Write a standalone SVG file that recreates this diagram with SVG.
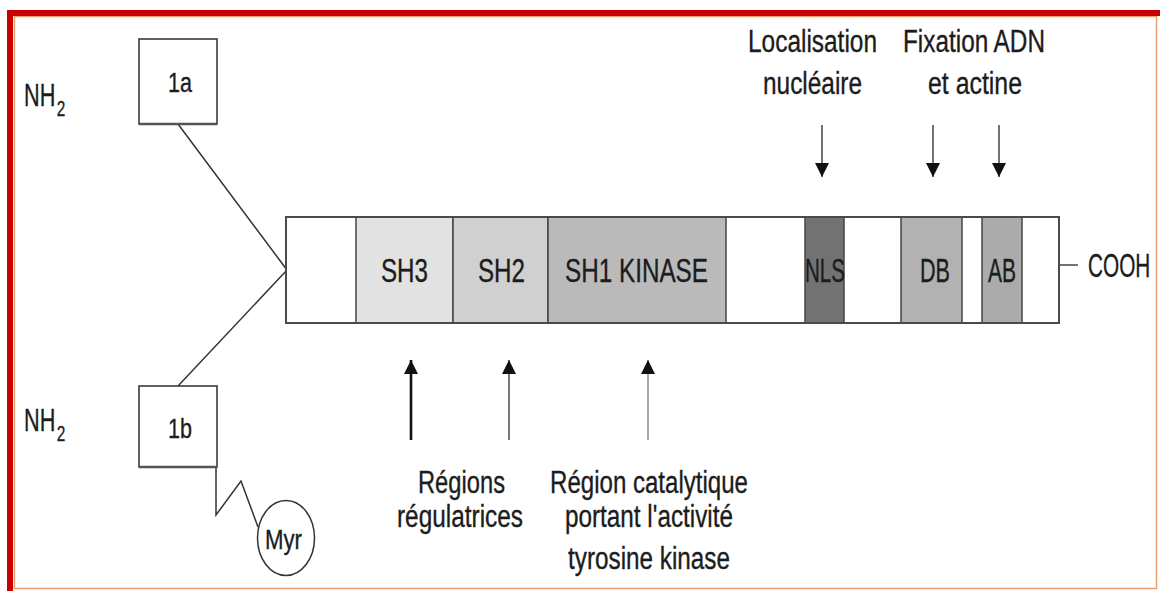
<svg xmlns="http://www.w3.org/2000/svg" width="1160" height="591" viewBox="0 0 1160 591">
<style>
text{font-family:"Liberation Sans",Arial,sans-serif;fill:#1c1c1c;stroke:#1c1c1c;stroke-width:0.35;}
.t{font-size:31px;}
.b{font-size:33px;}
.s{font-size:27px;}
.box{fill:#fff;stroke:#3a3a3a;stroke-width:1.6;}
.dom{stroke:#444;stroke-width:1.5;}
.con{fill:none;stroke:#333;stroke-width:1.5;}
</style>
<defs>
<marker id="ah" viewBox="0 0 10 10" refX="10" refY="5" markerWidth="14" markerHeight="17" markerUnits="userSpaceOnUse" orient="auto">
<path d="M0,0 L10,5 L0,10 z" fill="#111"/>
</marker>
</defs>
<rect x="0" y="0" width="1160" height="591" fill="#fff"/>
<!-- frame -->
<rect x="14.5" y="16.5" width="1142" height="572" fill="none" stroke="#e8a070" stroke-width="1.5"/>
<rect x="7" y="10" width="1153" height="6" fill="#c80000"/>
<rect x="7" y="10" width="6" height="581" fill="#c80000"/>

<!-- connectors -->
<g id="connectors">
<polyline class="con" points="178,124 287,270 178,386"/>
<polyline class="con" points="216,467 216,515 241,481 258,527"/>
<line x1="1059" y1="265" x2="1078" y2="265" stroke="#444" stroke-width="1.5"/>
<line x1="822" y1="125" x2="822" y2="177" stroke="#444" stroke-width="1.5" marker-end="url(#ah)"/>
<line x1="933" y1="125" x2="933" y2="177" stroke="#444" stroke-width="1.5" marker-end="url(#ah)"/>
<line x1="999" y1="125" x2="999" y2="177" stroke="#444" stroke-width="1.5" marker-end="url(#ah)"/>
<line x1="411" y1="440" x2="411" y2="360" stroke="#111" stroke-width="2.6" marker-end="url(#ah)"/>
<line x1="509" y1="440" x2="509" y2="360" stroke="#555" stroke-width="1.6" marker-end="url(#ah)"/>
<line x1="648" y1="440" x2="648" y2="360" stroke="#777" stroke-width="1.3" marker-end="url(#ah)"/>
</g>

<!-- N-terminal labels -->
<g id="nh2-top">
<text class="t" transform="translate(24,106) scale(0.7,1)">NH<tspan dx="2" dy="10" font-size="22">2</tspan></text>
</g>
<g id="nh2-bottom">
<text class="t" transform="translate(24,431) scale(0.7,1)">NH<tspan dx="2" dy="10" font-size="22">2</tspan></text>
</g>

<g id="exon-1a">
<rect class="box" x="139" y="39" width="78" height="85"/>
<line x1="139" y1="124" x2="217" y2="124" stroke="#555" stroke-width="2.5"/>
<text class="s" x="168" y="92" textLength="24" lengthAdjust="spacingAndGlyphs">1a</text>
</g>
<g id="exon-1b">
<rect class="box" x="139" y="386" width="78" height="81"/>
<line x1="139" y1="467" x2="217" y2="467" stroke="#555" stroke-width="2.5"/>
<text class="s" x="168" y="438" textLength="24" lengthAdjust="spacingAndGlyphs">1b</text>
</g>
<g id="myr">
<ellipse cx="286" cy="538" rx="28.5" ry="37.5" fill="#fff" stroke="#333" stroke-width="1.5"/>
<text class="s" x="265" y="549" textLength="37" lengthAdjust="spacingAndGlyphs">Myr</text>
</g>

<!-- main protein bar -->
<g id="protein">
<rect x="286" y="217" width="773" height="106" fill="#fff" stroke="#4a4a4a" stroke-width="2"/>
<g id="sh3"><rect class="dom" x="356" y="217" width="97" height="106" fill="#e2e2e2"/>
<text class="b" x="381" y="282" textLength="47" lengthAdjust="spacingAndGlyphs">SH3</text></g>
<g id="sh2"><rect class="dom" x="453" y="217" width="95" height="106" fill="#d0d0d0"/>
<text class="b" x="478" y="282" textLength="47" lengthAdjust="spacingAndGlyphs">SH2</text></g>
<g id="sh1"><rect class="dom" x="548" y="217" width="178" height="106" fill="#bababa"/>
<text class="b" x="565" y="282" textLength="143" lengthAdjust="spacingAndGlyphs">SH1 KINASE</text></g>
<g id="nls"><rect class="dom" x="805" y="217" width="39" height="106" fill="#727272"/>
<text class="b" x="805" y="282" textLength="40" lengthAdjust="spacingAndGlyphs">NLS</text></g>
<g id="db"><rect class="dom" x="901" y="217" width="61" height="106" fill="#b2b2b2"/>
<text class="b" x="920" y="282" textLength="30" lengthAdjust="spacingAndGlyphs">DB</text></g>
<g id="ab"><rect class="dom" x="982" y="217" width="40" height="106" fill="#ababab"/>
<text class="b" x="988" y="282" textLength="28" lengthAdjust="spacingAndGlyphs">AB</text></g>
<rect x="286" y="217" width="773" height="106" fill="none" stroke="#4a4a4a" stroke-width="2"/>
</g>
<g id="cooh">
<text class="b" transform="translate(1088,277) scale(0.63,1)">COOH</text>
</g>

<!-- annotation labels -->
<g id="label-nls">
<text class="t" x="748" y="52" textLength="129" lengthAdjust="spacingAndGlyphs">Localisation</text>
<text class="t" x="763" y="94" textLength="99" lengthAdjust="spacingAndGlyphs">nucléaire</text>
</g>
<g id="label-db-ab">
<text class="t" x="903" y="52" textLength="142" lengthAdjust="spacingAndGlyphs">Fixation ADN</text>
<text class="t" x="928" y="94" textLength="94" lengthAdjust="spacingAndGlyphs">et actine</text>
</g>
<g id="label-regulatory">
<text class="t" x="418" y="493" textLength="87" lengthAdjust="spacingAndGlyphs">Régions</text>
<text class="t" x="397" y="527" textLength="126" lengthAdjust="spacingAndGlyphs">régulatrices</text>
</g>
<g id="label-catalytic">
<text class="t" x="550" y="493" textLength="198" lengthAdjust="spacingAndGlyphs">Région catalytique</text>
<text class="t" x="565" y="527" textLength="168" lengthAdjust="spacingAndGlyphs">portant l'activité</text>
<text class="t" x="568" y="569" textLength="162" lengthAdjust="spacingAndGlyphs">tyrosine kinase</text>
</g>
</svg>
